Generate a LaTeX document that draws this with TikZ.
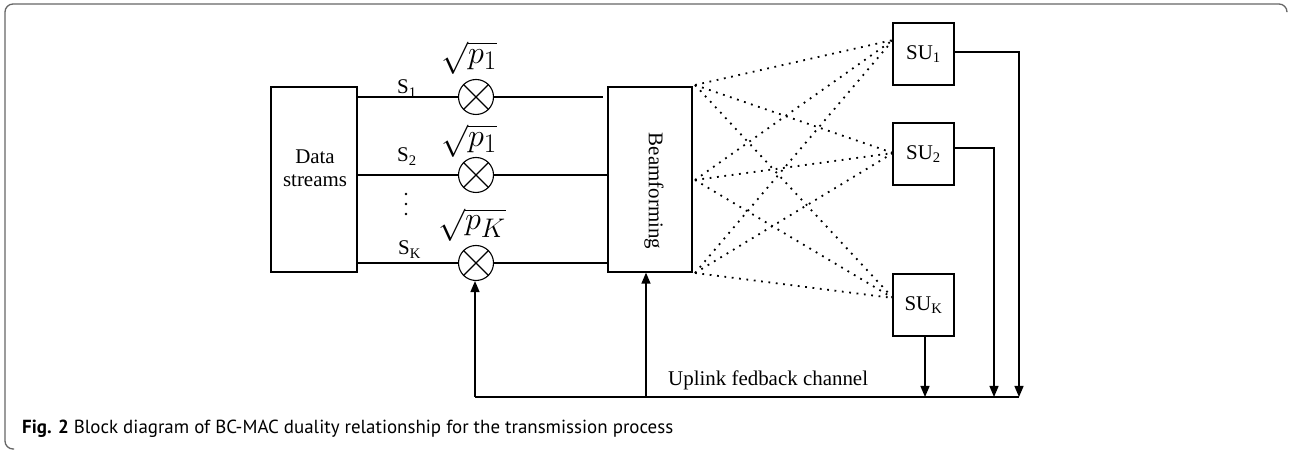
\documentclass[tikz,border=0pt]{standalone}
\usepackage{graphicx}
\usepackage{fontspec}
\setmainfont{Liberation Serif}
\newfontfamily\capfont{PT Sans}
\usetikzlibrary{arrows.meta,calc}
\newcommand{\bigroot}[1]{\scalebox{1.3}{$\sqrt{#1}$}}
\begin{document}
\begin{tikzpicture}[x=1bp,y=-1bp,
  every node/.style={font=\fontsize{21}{25}\selectfont},
  blk/.style={draw,line width=1.3bp,rectangle,inner sep=0pt},
  mult/.style={draw,line width=1.1bp,circle,minimum size=35bp,inner sep=0pt},
  wire/.style={line width=1.3bp},
  dots/.style={line width=1.8bp,dash pattern=on 1.8bp off 5.6bp},
  arr/.style={line width=1.3bp,-{Triangle[length=11bp,width=9bp]}},
  lbl/.style={inner sep=0pt},
  root/.style={inner sep=0pt,font=\fontsize{24.88}{28}\selectfont}
]
\useasboundingbox (0,0) rectangle (1289,451);
% frame
\draw[gray!80!black,line width=1.3bp,rounded corners=8bp] (14,449) -- (5,449) -- (5,4) -- (1287,4) -- (1287,12);

% blocks
\node[blk,minimum width=86bp,minimum height=185bp] (ds) at (314,179.5) {};
\node[lbl,align=center] (dst) at (315,168) {Data\\[-2bp]streams};
\node[blk,minimum width=84bp,minimum height=185bp] (bf) at (650,179.5) {};
\node[lbl,rotate=-90] (bft) at (654,191) {Beamforming};

\node[blk,minimum width=61bp,minimum height=62bp] (su1) at (923.5,54) {SU\textsubscript{1}};
\node[blk,minimum width=61bp,minimum height=62bp] (su2) at (923.5,154) {SU\textsubscript{2}};
\node[blk,minimum width=61bp,minimum height=62bp] (suk) at (923.5,305) {SU\textsubscript{K}};

% multipliers
\node[mult] (m1) at (476,97) {};
\node[mult] (m2) at (476,175) {};
\node[mult] (m3) at (476,263) {};
\foreach \m in {m1,m2,m3}{
  \draw[line width=1.1bp] (\m.45) -- (\m.225) (\m.135) -- (\m.-45);
}
\node[root] (r1) at (469,58) {\bigroot{p_1}};
\node[root] (r2) at (469,141) {\bigroot{p_1}};
\node[root] (r3) at (472,225) {\bigroot{p_K}};

% stream labels
\node[lbl,anchor=base west] (s1) at (397,94) {S\textsubscript{1}};
\node[lbl,anchor=base west] (s2) at (397,162) {S\textsubscript{2}};
\node[lbl,anchor=base west] (sk) at (398,255) {S\textsubscript{K}};
\foreach \yy in {194,204,214}{
  \fill (406,\yy) circle (1.4bp);
}

% wires
\coordinate (e1) at (603,97);
\draw[wire] (ds.east |- m1) -- (m1.west);
\draw[wire] (m1.east) -- (e1);
\draw[wire] (ds.east |- m2) -- (m2.west);
\draw[wire] (m2.east) -- (bf.west |- m2);
\draw[wire] (ds.east |- m3) -- (m3.west);
\draw[wire] (m3.east) -- (bf.west |- m3);

% dotted links
\coordinate (b1) at (695,85);
\coordinate (b2) at (695,180);
\coordinate (b3) at (695,273);
\coordinate (t1) at (893,40);
\coordinate (t2) at (893,153);
\coordinate (t3) at (893,298);
\foreach \b in {b1,b2,b3}{
  \foreach \t in {t1,t2,t3}{
    \draw[dots] (\b) -- (\t);
  }
}

% feedback
\coordinate (fl) at (475,397);
\coordinate (fb) at (646,397);
\coordinate (c1) at (1019,397);
\coordinate (c2) at (994,397);
\draw[wire] (fl) -- (c1);
\draw[arr] (fl) -- (m3.south -| fl);
\draw[arr] (fb) -- (bf.south -| fb);
\draw[arr] (su1.east |- 0,52) -- (1019,52) -- (c1);
\draw[arr] (su2.east |- 0,148) -- (994,148) -- (c2);
\draw[arr] (suk.south -| 925,0) -- (925,397);
\node[lbl,anchor=base west] (up) at (668,386) {Uplink fedback channel};

% caption
\node[lbl,anchor=base west,font=\capfont\fontsize{19}{22}\selectfont] (cap) at (22,434) {\textbf{Fig. 2} Block diagram of BC-MAC duality relationship for the transmission process};
\end{tikzpicture}
\end{document}
